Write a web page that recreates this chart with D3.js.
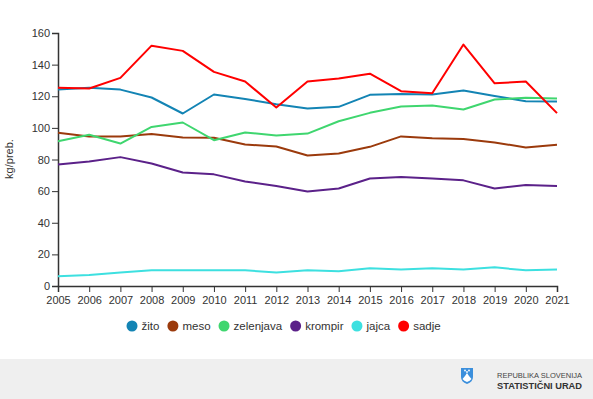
<!DOCTYPE html>
<html>
<head>
<meta charset="utf-8">
<script src="https://cdn.jsdelivr.net/npm/d3@7"></script>
<style>
  body { margin: 0; background: #fff; }
  svg { display: block; font-family: Arial, "Liberation Sans", sans-serif; }
</style>
</head>
<body>
<div id="chart"></div>
<script>
// years on the x axis
const years = d3.range(2005, 2022);

// series names and colours (legend order)
const seriesNames = ["žito", "meso", "zelenjava", "krompir", "jajca", "sadje"];
const seriesColors = ["#1384b4", "#9b3a0c", "#3fd66f", "#5b2189", "#3de0e0", "#ff0000"];

// kg per inhabitant
const zito      = [124.2, 125.3, 124.2, 119.2, 109.1, 121.1, 118.3, 115.0, 112.2, 113.3, 120.9, 121.5, 121.1, 123.6, 120.2, 116.9, 116.7];
const meso      = [96.9, 94.6, 94.6, 96.2, 93.9, 93.7, 89.5, 88.2, 82.5, 83.8, 88.0, 94.6, 93.5, 92.9, 90.8, 87.6, 89.3];
const zelenjava = [91.6, 95.6, 90.1, 100.6, 103.4, 92.2, 97.1, 95.2, 96.4, 104.2, 109.5, 113.5, 114.1, 111.6, 117.9, 119.0, 118.6];
const krompir   = [76.9, 78.8, 81.5, 77.5, 71.8, 70.6, 66.1, 63.2, 59.8, 61.7, 68.0, 68.9, 68.0, 66.8, 61.7, 63.8, 63.2];
const jajca     = [6.1, 6.9, 8.6, 9.9, 9.9, 9.9, 9.9, 8.6, 9.9, 9.3, 11.2, 10.5, 11.2, 10.5, 11.8, 9.9, 10.5];
const sadje     = [125.3, 124.9, 131.6, 152.0, 148.7, 135.4, 129.3, 112.9, 129.3, 131.2, 134.3, 123.2, 121.9, 152.7, 128.2, 129.3, 109.3];

const seriesValues = [zito, meso, zelenjava, krompir, jajca, sadje];
const yTicks = [0, 20, 40, 60, 80, 100, 120, 140, 160];

const width = 593, height = 399;
const margin = {top: 33, right: 36, bottom: 113, left: 58};

const svg = d3.select("#chart").append("svg")
    .attr("width", width)
    .attr("height", height);

// scales
const x = d3.scaleLinear()
    .domain([2005, 2021])
    .range([margin.left, width - margin.right]);

const y = d3.scaleLinear()
    .domain([0, 160])
    .range([height - margin.bottom, margin.top]);

// y axis
const yAxis = svg.append("g")
    .attr("transform", `translate(${margin.left},0)`)
    .call(d3.axisLeft(y).tickValues(yTicks).tickSize(6).tickPadding(2));

// x axis
const xAxis = svg.append("g")
    .attr("transform", `translate(0,${height - margin.bottom})`)
    .call(d3.axisBottom(x).tickValues(years).tickFormat(d3.format("d")).tickSize(6).tickPadding(4));

[yAxis, xAxis].forEach(ax => {
    ax.select(".domain").attr("stroke", "#333").attr("stroke-width", 1.5);
    ax.selectAll(".tick line").attr("stroke", "#333");
    ax.selectAll(".tick text")
        .attr("fill", "#333")
        .style("font-size", "11px")
        .style("font-family", "Arial, 'Liberation Sans', sans-serif");
});

// y axis title
svg.append("text")
    .attr("transform", "translate(13,159) rotate(-90)")
    .attr("text-anchor", "middle")
    .attr("fill", "#333")
    .style("font-size", "11px")
    .text("kg/preb.");

// lines
const line = d3.line()
    .x((d, i) => x(years[i]))
    .y(d => y(d));

svg.append("g").selectAll("path")
    .data(seriesValues)
    .enter()
    .append("path")
    .attr("d", line)
    .attr("fill", "none")
    .attr("stroke", (d, i) => seriesColors[i])
    .attr("stroke-width", 2)
    .attr("stroke-linejoin", "round");

// legend
const legend = svg.append("g").attr("transform", "translate(0,326)");
let cx = 132;
seriesNames.forEach((name, i) => {
    legend.append("circle")
        .attr("cx", cx)
        .attr("cy", 0)
        .attr("r", 5.5)
        .attr("fill", seriesColors[i]);
    const t = legend.append("text")
        .attr("x", cx + 9.5)
        .attr("y", 4)
        .attr("fill", "#333")
        .style("font-size", "11.5px")
        .text(name);
    cx = cx + 9.5 + t.node().getComputedTextLength() + 13.5;
});

// footer band
svg.append("rect")
    .attr("x", 0)
    .attr("y", 359)
    .attr("width", width)
    .attr("height", height - 359)
    .attr("fill", "#efefef");

// logo shield
const logo = svg.append("g").attr("transform", "translate(461,368)");
logo.append("path")
    .attr("d", "M0,0 L12,0 L12,9 Q12,14 6,16 Q0,14 0,9 Z")
    .attr("fill", "#3b8fdc");
logo.append("path")
    .attr("d", "M1.5,11 L4,8 L6,5 L8,8 L10.5,11 Q9,13 6,14 Q3,13 1.5,11 Z")
    .attr("fill", "#fff");
[[4, 2.5], [8, 2.5], [6, 4]].forEach(p => {
    logo.append("circle").attr("cx", p[0]).attr("cy", p[1]).attr("r", 0.9).attr("fill", "#fff");
});

svg.append("text")
    .attr("x", 497)
    .attr("y", 378)
    .attr("fill", "#444")
    .attr("textLength", 85)
    .attr("lengthAdjust", "spacingAndGlyphs")
    .style("font-size", "8px")
    .text("REPUBLIKA SLOVENIJA");

svg.append("text")
    .attr("x", 497)
    .attr("y", 389)
    .attr("fill", "#333")
    .attr("textLength", 85)
    .attr("lengthAdjust", "spacingAndGlyphs")
    .style("font-size", "8.5px")
    .style("font-weight", "bold")
    .text("STATISTIČNI URAD");
</script>
</body>
</html>
